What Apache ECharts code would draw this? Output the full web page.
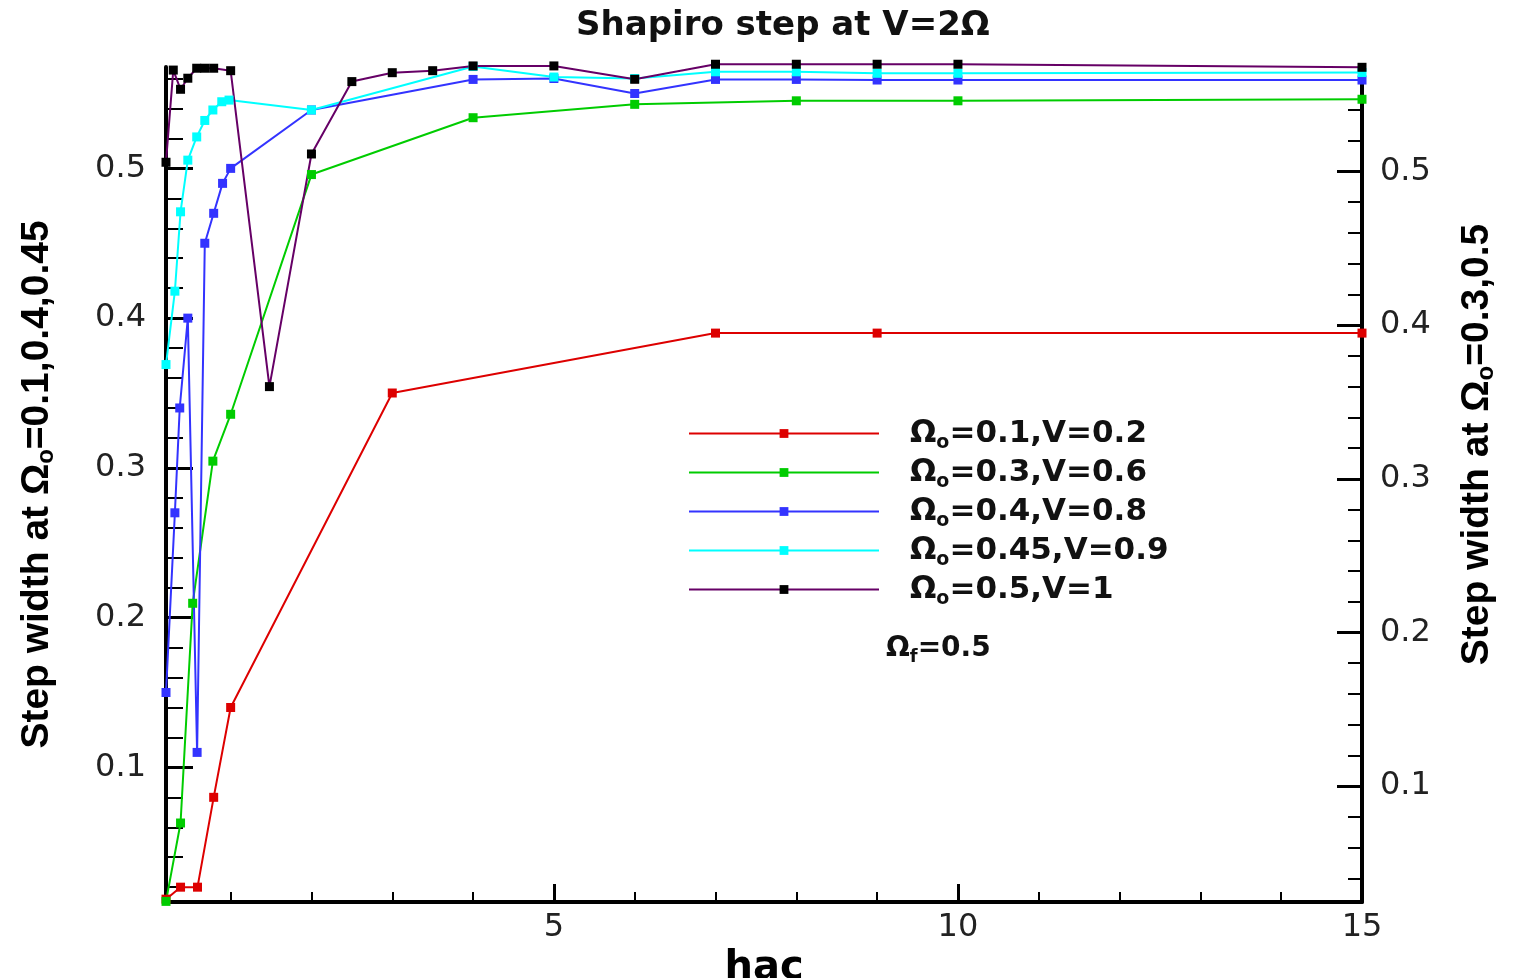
<!DOCTYPE html>
<html><head><meta charset="utf-8">
<script src="https://cdn.jsdelivr.net/npm/echarts@6/dist/echarts.min.js"></script>
<style>html,body{margin:0;padding:0;background:#fff}#c{width:1517px;height:978px}</style>
</head><body><div id="c"></div>
<script>
// ---- data ----
const seriesNames = ['Ωo=0.1,V=0.2', 'Ωo=0.3,V=0.6', 'Ωo=0.4,V=0.8', 'Ωo=0.45,V=0.9', 'Ωo=0.5,V=1'];

const redX = [0.2, 0.38, 0.59, 0.79, 1.0, 3, 7, 9, 15];
const redY = [0.012, 0.02, 0.02, 0.08, 0.14, 0.35, 0.39, 0.39, 0.39];

const greenX = [0.2, 0.38, 0.53, 0.78, 1.0, 2, 4, 6, 8, 10, 15];
const greenY = [0.025, 0.076, 0.219, 0.3115, 0.342, 0.498, 0.535, 0.5437, 0.546, 0.546, 0.547];

const blueX = [0.2, 0.31, 0.37, 0.47, 0.585, 0.68, 0.79, 0.9, 1.0, 2, 4, 5, 6, 7, 8, 9, 10, 15];
const blueY = [0.15, 0.27, 0.34, 0.40, 0.11, 0.45, 0.47, 0.49, 0.50, 0.539, 0.5594, 0.56, 0.55, 0.5594, 0.5594, 0.559, 0.559, 0.559];

const cyanX = [0.2, 0.31, 0.38, 0.47, 0.58, 0.68, 0.78, 0.89, 0.98, 2, 4, 5, 6, 7, 8, 9, 10, 15];
const cyanY = [0.369, 0.418, 0.471, 0.5055, 0.521, 0.532, 0.539, 0.5445, 0.5456, 0.539, 0.568, 0.561, 0.56, 0.5645, 0.5645, 0.5635, 0.5635, 0.564];

const purpleX = [0.2, 0.29, 0.38, 0.47, 0.58, 0.68, 0.79, 1.0, 1.48, 2, 2.5, 3, 3.5, 4, 5, 6, 7, 8, 9, 10, 15];
const purpleY = [0.506, 0.566, 0.5535, 0.5607, 0.5672, 0.5672, 0.5672, 0.5656, 0.36, 0.5114, 0.5585, 0.5643, 0.5656, 0.5687, 0.5687, 0.56, 0.5698, 0.5698, 0.5698, 0.5698, 0.5678];

// ---- ticks and labels ----
const xLabels = [5, 10, 15];
const xMajorTicks = [5, 10];
const xMinorTicks = [1, 2, 3, 4, 6, 7, 8, 9, 11, 12, 13, 14];
const leftLabels = [0.1, 0.2, 0.3, 0.4, 0.5];
const leftMinorTicks = [0.02, 0.04, 0.06, 0.08, 0.12, 0.14, 0.16, 0.18, 0.22, 0.24, 0.26, 0.28, 0.32, 0.34, 0.36, 0.38, 0.42, 0.44, 0.46, 0.48, 0.52, 0.54, 0.56];
const rightLabels = [0.1, 0.2, 0.3, 0.4, 0.5];
const rightMinorTicks = [0.04, 0.06, 0.08, 0.12, 0.14, 0.16, 0.18, 0.22, 0.24, 0.26, 0.28, 0.32, 0.34, 0.36, 0.38, 0.42, 0.44, 0.46, 0.48, 0.52, 0.54, 0.56];

const xRange = [0.2, 15];
const leftRange = [0.0101, 0.5677];
const rightRange = [0.0246, 0.568];

// ---- build chart ----
const zip = (xs, ys) => xs.map((x, i) => [x, ys[i]]);
const FONT = 'DejaVu Sans';
const labelStyle = { fontFamily: FONT, fontSize: 32, color: '#222' };
const nameRich = {
  a: { fontFamily: 'Liberation Sans', fontWeight: 'bold', fontSize: 39, color: '#000', lineHeight: 42 },
  b: { fontFamily: 'Liberation Sans', fontWeight: 'bold', fontSize: 24, color: '#000', lineHeight: 12, verticalAlign: 'bottom' }
};

function mkLine(name, xs, ys, color, markColor, yIdx) {
  return {
    name, type: 'line', xAxisIndex: 0, yAxisIndex: yIdx,
    data: zip(xs, ys), symbol: 'rect', symbolSize: 9, clip: false,
    lineStyle: { color, width: 2 }, itemStyle: { color: markColor },
    emphasis: { disabled: true }, animation: false
  };
}

const chart = echarts.init(document.getElementById('c'));
chart.setOption({
  animation: false,
  backgroundColor: '#fff',
  title: {
    text: 'Shapiro step at V=2Ω', left: 571, top: 4,
    textStyle: { fontFamily: FONT, fontWeight: 'bold', fontSize: 34, color: '#111' }
  },
  grid: { left: 166, right: 155, top: 67, bottom: 76, containLabel: false, outerBoundsMode: 'none' },
  legend: {
    orient: 'vertical', left: 688, top: 418, padding: 0, itemGap: 4,
    itemWidth: 190, itemHeight: 11, selectedMode: false,
    data: seriesNames,
    formatter: n => '{a|Ω}{b|o}{a|' + n.slice(2) + '}',
    textStyle: {
      padding: [0, 0, 0, 26],
      rich: {
        a: { fontFamily: FONT, fontWeight: 'bold', fontSize: 31, color: '#111', lineHeight: 39 },
        b: { fontFamily: FONT, fontWeight: 'bold', fontSize: 19, color: '#111', lineHeight: 10, verticalAlign: 'bottom' }
      }
    }
  },
  graphic: [{
    type: 'text', left: 886, top: 635,
    style: {
      text: '{a|Ω}{b|f}{a|=0.5}',
      rich: {
        a: { fontFamily: FONT, fontWeight: 'bold', fontSize: 28, fill: '#111', lineHeight: 34 },
        b: { fontFamily: FONT, fontWeight: 'bold', fontSize: 18, fill: '#111', lineHeight: 12, verticalAlign: 'bottom' }
      }
    }
  }],
  xAxis: [
    {
      type: 'value', min: xRange[0], max: xRange[1], position: 'bottom',
      axisLine: { show: true, onZero: false, lineStyle: { color: '#000', width: 4 } },
      axisTick: { show: true, inside: true, length: 18, customValues: xMajorTicks, lineStyle: { color: '#000', width: 3 } },
      axisLabel: Object.assign({ customValues: xLabels, margin: 10, showMaxLabel: true, showMinLabel: true }, labelStyle),
      splitLine: { show: false },
      name: 'hac', nameLocation: 'middle', nameGap: 33,
      nameTextStyle: { fontFamily: FONT, fontWeight: 'bold', fontSize: 40, color: '#000' }
    },
    {
      type: 'value', min: xRange[0], max: xRange[1], position: 'bottom',
      axisLine: { show: false },
      axisTick: { show: true, inside: true, length: 10, customValues: xMinorTicks, lineStyle: { color: '#000', width: 2 } },
      axisLabel: { show: false }, splitLine: { show: false }
    }
  ],
  yAxis: [
    {
      type: 'value', min: leftRange[0], max: leftRange[1], position: 'left',
      axisLine: { show: true, onZero: false, lineStyle: { color: '#000', width: 4 } },
      axisTick: { show: true, inside: true, length: 27, customValues: leftLabels, lineStyle: { color: '#000', width: 3 } },
      axisLabel: Object.assign({ customValues: leftLabels, margin: 20, showMaxLabel: true }, labelStyle),
      splitLine: { show: false },
      name: '{a|Step width at Ω}{b|o}{a|=0.1,0.4,0.45}', nameLocation: 'middle', nameGap: 108, nameRotate: 90,
      nameTextStyle: { rich: nameRich }
    },
    {
      type: 'value', min: leftRange[0], max: leftRange[1], position: 'left',
      axisLine: { show: false },
      axisTick: { show: true, inside: true, length: 17, customValues: leftMinorTicks, lineStyle: { color: '#000', width: 2 } },
      axisLabel: { show: false }, splitLine: { show: false }
    },
    {
      type: 'value', min: rightRange[0], max: rightRange[1], position: 'right',
      axisLine: { show: true, onZero: false, lineStyle: { color: '#000', width: 4 } },
      axisTick: { show: true, inside: true, length: 25, customValues: rightLabels, lineStyle: { color: '#000', width: 3 } },
      axisLabel: Object.assign({ customValues: rightLabels, margin: 18, showMaxLabel: true }, labelStyle),
      splitLine: { show: false },
      name: '{a|Step width at Ω}{b|o}{a|=0.3,0.5}', nameLocation: 'middle', nameGap: 94, nameRotate: 90,
      nameTextStyle: { rich: nameRich, padding: [0, 0, 0, 80] }
    },
    {
      type: 'value', min: rightRange[0], max: rightRange[1], position: 'right',
      axisLine: { show: false },
      axisTick: { show: true, inside: true, length: 14, customValues: rightMinorTicks, lineStyle: { color: '#000', width: 2 } },
      axisLabel: { show: false }, splitLine: { show: false }
    }
  ],
  series: [
    mkLine(seriesNames[0], redX, redY, '#dd0000', '#dd0000', 0),
    mkLine(seriesNames[1], greenX, greenY, '#00cc00', '#00cc00', 2),
    mkLine(seriesNames[2], blueX, blueY, '#3333ff', '#3333ff', 0),
    mkLine(seriesNames[3], cyanX, cyanY, '#00ffff', '#00ffff', 0),
    mkLine(seriesNames[4], purpleX, purpleY, '#660066', '#000000', 2)
  ]
});
</script>
</body></html>
